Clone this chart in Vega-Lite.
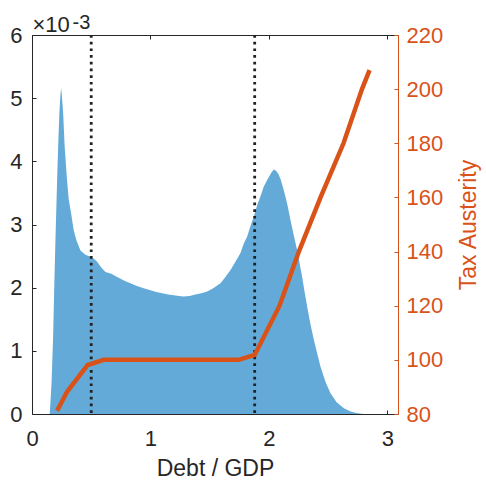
{
  "$schema": "https://vega.github.io/schema/vega-lite/v6.json",
  "width": 366,
  "height": 379,
  "autosize": {"type": "none"},
  "padding": {"left": 32, "top": 35, "right": 88, "bottom": 72},
  "background": "white",
  "datasets": {
    "hist": [
      {"x": 0.13, "d": 0}, {"x": 0.15, "d": 0}, {"x": 0.165, "d": 0.0005}, {"x": 0.178, "d": 0.0012},
      {"x": 0.189, "d": 0.0021}, {"x": 0.2, "d": 0.0029}, {"x": 0.212, "d": 0.0037}, {"x": 0.222, "d": 0.0043},
      {"x": 0.231, "d": 0.00476}, {"x": 0.24, "d": 0.00505}, {"x": 0.246, "d": 0.00516}, {"x": 0.252, "d": 0.00505},
      {"x": 0.263, "d": 0.00476}, {"x": 0.276, "d": 0.00423}, {"x": 0.296, "d": 0.0037}, {"x": 0.31, "d": 0.0034},
      {"x": 0.33, "d": 0.00318}, {"x": 0.352, "d": 0.00291}, {"x": 0.375, "d": 0.00275}, {"x": 0.409, "d": 0.00259},
      {"x": 0.451, "d": 0.00252}, {"x": 0.493, "d": 0.00249}, {"x": 0.52, "d": 0.00246}, {"x": 0.55, "d": 0.00241},
      {"x": 0.585, "d": 0.00232}, {"x": 0.62, "d": 0.00225}, {"x": 0.67, "d": 0.00222}, {"x": 0.719, "d": 0.00217},
      {"x": 0.78, "d": 0.00211}, {"x": 0.831, "d": 0.00207}, {"x": 0.88, "d": 0.00203}, {"x": 0.943, "d": 0.00199},
      {"x": 1.0, "d": 0.00196}, {"x": 1.05, "d": 0.00193}, {"x": 1.1, "d": 0.00191}, {"x": 1.15, "d": 0.00189},
      {"x": 1.198, "d": 0.00188}, {"x": 1.24, "d": 0.00187}, {"x": 1.28, "d": 0.00186}, {"x": 1.33, "d": 0.00187},
      {"x": 1.38, "d": 0.00189}, {"x": 1.43, "d": 0.00191}, {"x": 1.479, "d": 0.00194}, {"x": 1.53, "d": 0.00199},
      {"x": 1.591, "d": 0.00207}, {"x": 1.63, "d": 0.00216}, {"x": 1.676, "d": 0.00228}, {"x": 1.72, "d": 0.00242},
      {"x": 1.76, "d": 0.00255}, {"x": 1.788, "d": 0.0027}, {"x": 1.817, "d": 0.00281}, {"x": 1.845, "d": 0.00298},
      {"x": 1.872, "d": 0.00312}, {"x": 1.9, "d": 0.0033}, {"x": 1.93, "d": 0.00345}, {"x": 1.957, "d": 0.0036},
      {"x": 1.99, "d": 0.00372}, {"x": 2.02, "d": 0.00382}, {"x": 2.041, "d": 0.00387}, {"x": 2.06, "d": 0.00385},
      {"x": 2.08, "d": 0.0038}, {"x": 2.098, "d": 0.00372}, {"x": 2.12, "d": 0.00358}, {"x": 2.14, "d": 0.00344},
      {"x": 2.16, "d": 0.00328}, {"x": 2.182, "d": 0.00307}, {"x": 2.21, "d": 0.00283}, {"x": 2.239, "d": 0.00259},
      {"x": 2.26, "d": 0.00238}, {"x": 2.281, "d": 0.00217}, {"x": 2.3, "d": 0.00195}, {"x": 2.323, "d": 0.0017},
      {"x": 2.35, "d": 0.00143}, {"x": 2.38, "d": 0.00117}, {"x": 2.41, "d": 0.00094}, {"x": 2.436, "d": 0.00075},
      {"x": 2.48, "d": 0.0005}, {"x": 2.52, "d": 0.00033}, {"x": 2.57, "d": 0.00019}, {"x": 2.633, "d": 0.00009},
      {"x": 2.69, "d": 0.00004}, {"x": 2.746, "d": 0.00001}, {"x": 2.8, "d": 0}
    ],
    "tax": [
      {"x": 0.212, "t": 81.2}, {"x": 0.296, "t": 88.2}, {"x": 0.47, "t": 98.1}, {"x": 0.606, "t": 100},
      {"x": 1.746, "t": 100}, {"x": 1.88, "t": 101.8}, {"x": 2.09, "t": 120}, {"x": 2.253, "t": 140},
      {"x": 2.436, "t": 160}, {"x": 2.63, "t": 180}, {"x": 2.786, "t": 200}, {"x": 2.85, "t": 207}
    ],
    "cuts": [{"x": 0.5}, {"x": 1.88}]
  },
  "config": {
    "font": "Liberation Sans",
    "view": {"stroke": null},
    "axis": {
      "labelFont": "Liberation Sans",
      "titleFont": "Liberation Sans",
      "labelFontSize": 22,
      "titleFontSize": 23,
      "titleFontWeight": "normal",
      "labelColor": "#262626",
      "titleColor": "#262626",
      "domainColor": "#262626",
      "tickColor": "#262626",
      "domainWidth": 1,
      "tickWidth": 1,
      "tickSize": -4,
      "grid": false
    }
  },
  "layer": [
    {
      "data": {"name": "hist"},
      "mark": {"type": "area", "color": "#64aad8", "interpolate": "linear"},
      "encoding": {
        "x": {
          "field": "x", "type": "quantitative",
          "scale": {"domain": [0, 3.09], "nice": false, "zero": false},
          "axis": {"orient": "bottom", "values": [0, 1, 2, 3], "title": "Debt / GDP", "labelPadding": 18, "titlePadding": 8, "labelFlush": false}
        },
        "y": {
          "field": "d", "type": "quantitative",
          "scale": {"domain": [0, 0.006], "nice": false},
          "axis": {
            "orient": "left", "values": [0, 0.001, 0.002, 0.003, 0.004, 0.005, 0.006],
            "labelExpr": "round(datum.value*1000)", "labelPadding": 14, "labelFlush": false,
            "title": "×10", "titleFontSize": 22, "titleAngle": 0, "titleAlign": "left", "titleBaseline": "alphabetic",
            "titleX": 0, "titleY": -4
          }
        }
      }
    },
    {
      "data": {"name": "cuts"},
      "mark": {"type": "rule", "color": "#222222", "strokeWidth": 2.8, "strokeDash": [2.7, 4]},
      "encoding": {
        "x": {
          "field": "x", "type": "quantitative",
          "axis": {"orient": "top", "values": [0, 1, 2, 3], "labels": false, "title": "-3", "titleFontSize": 20,
                   "titleAngle": 0, "titleAlign": "left", "titleBaseline": "alphabetic", "titleX": 40, "titleY": -7}
        }
      }
    },
    {
      "data": {"name": "tax"},
      "mark": {"type": "line", "color": "#D95319", "strokeWidth": 4.5, "strokeCap": "butt"},
      "encoding": {
        "x": {"field": "x", "type": "quantitative", "axis": null},
        "y": {
          "field": "t", "type": "quantitative",
          "scale": {"domain": [80, 220], "nice": false, "zero": false},
          "axis": {
            "orient": "right", "values": [80, 100, 120, 140, 160, 180, 200, 220],
            "title": "Tax Austerity", "titleAngle": 270, "titleAlign": "center", "titleBaseline": "middle",
            "titleX": 70, "titleY": 189.5, "labelPadding": 12, "labelFlush": false,
            "domainColor": "#D95319", "tickColor": "#D95319", "labelColor": "#D95319", "titleColor": "#D95319"
          }
        }
      }
    }
  ],
  "resolve": {"scale": {"y": "independent"}, "axis": {"x": "independent"}}
}
